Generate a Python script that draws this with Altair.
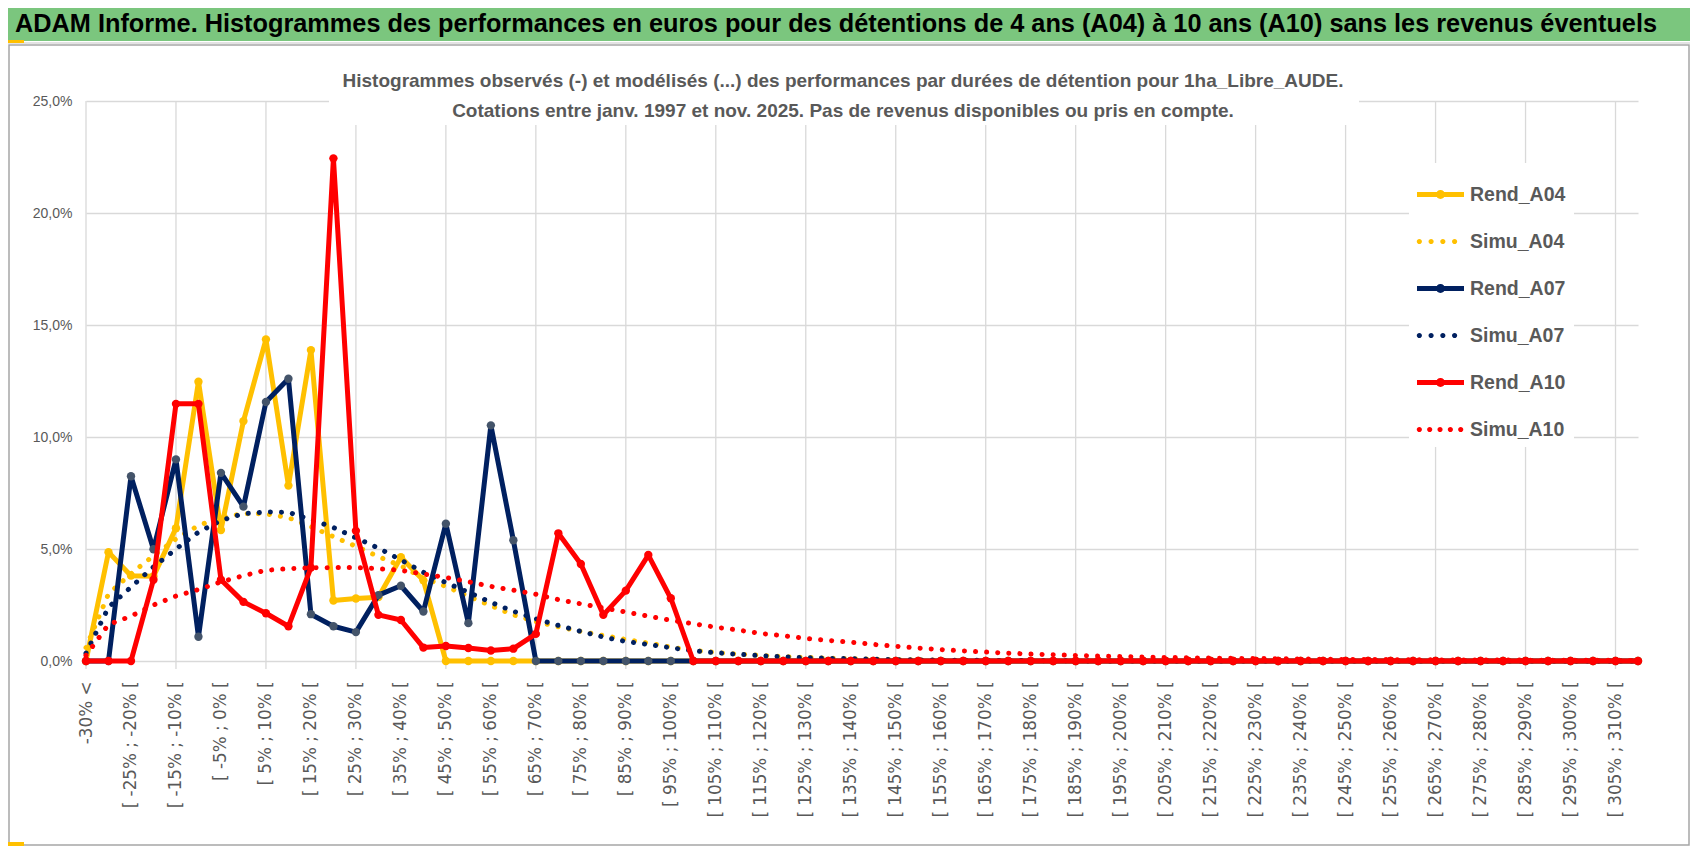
import altair as alt
import pandas as pd

NARROW = "Liberation Sans, Arial, sans-serif"
WIDE = "DejaVu Sans, sans-serif"
GRAY = "#595959"

main_title = "ADAM Informe. Histogrammes des performances en euros pour des détentions de 4 ans (A04) à 10 ans (A10) sans les revenus éventuels"
sub_title = ("Histogrammes observés (-) et modélisés (...) des performances par durées de détention pour 1ha_Libre_AUDE.\n"
             "Cotations entre janv. 1997 et nov. 2025. Pas de revenus disponibles ou pris en compte.")

categories = [
    "-30% <",
    "[ -30% ; -25% [", "[ -25% ; -20% [", "[ -20% ; -15% [", "[ -15% ; -10% [", "[ -10% ; -5% [",
    "[ -5% ; 0% [", "[ 0% ; 5% [", "[ 5% ; 10% [", "[ 10% ; 15% [", "[ 15% ; 20% [",
    "[ 20% ; 25% [", "[ 25% ; 30% [", "[ 30% ; 35% [", "[ 35% ; 40% [", "[ 40% ; 45% [",
    "[ 45% ; 50% [", "[ 50% ; 55% [", "[ 55% ; 60% [", "[ 60% ; 65% [", "[ 65% ; 70% [",
    "[ 70% ; 75% [", "[ 75% ; 80% [", "[ 80% ; 85% [", "[ 85% ; 90% [", "[ 90% ; 95% [",
    "[ 95% ; 100% [", "[ 100% ; 105% [", "[ 105% ; 110% [", "[ 110% ; 115% [", "[ 115% ; 120% [",
    "[ 120% ; 125% [", "[ 125% ; 130% [", "[ 130% ; 135% [", "[ 135% ; 140% [", "[ 140% ; 145% [",
    "[ 145% ; 150% [", "[ 150% ; 155% [", "[ 155% ; 160% [", "[ 160% ; 165% [", "[ 165% ; 170% [",
    "[ 170% ; 175% [", "[ 175% ; 180% [", "[ 180% ; 185% [", "[ 185% ; 190% [", "[ 190% ; 195% [",
    "[ 195% ; 200% [", "[ 200% ; 205% [", "[ 205% ; 210% [", "[ 210% ; 215% [", "[ 215% ; 220% [",
    "[ 220% ; 225% [", "[ 225% ; 230% [", "[ 230% ; 235% [", "[ 235% ; 240% [", "[ 240% ; 245% [",
    "[ 245% ; 250% [", "[ 250% ; 255% [", "[ 255% ; 260% [", "[ 260% ; 265% [", "[ 265% ; 270% [",
    "[ 270% ; 275% [", "[ 275% ; 280% [", "[ 280% ; 285% [", "[ 285% ; 290% [", "[ 290% ; 295% [",
    "[ 295% ; 300% [", "[ 300% ; 305% [", "[ 305% ; 310% [", "[ 310% ; 315% [",
]

# values in percent
rend_a04 = [0, 4.86, 3.81, 3.78, 5.93, 12.47, 5.85, 10.71, 14.36, 7.83,
            13.88, 2.70, 2.79, 2.85, 4.63, 3.60, 0, 0, 0, 0,
            0, 0, 0, 0, 0, 0, 0, 0, 0, 0,
            0, 0, 0, 0, 0, 0, 0, 0, 0, 0,
            0, 0, 0, 0, 0, 0, 0, 0, 0, 0,
            0, 0, 0, 0, 0, 0, 0, 0, 0, 0,
            0, 0, 0, 0, 0, 0, 0, 0, 0, 0]
simu_a04 = [0.6, 3.0, 3.9, 4.7, 5.45, 6.05, 6.4, 6.58, 6.57, 6.4,
            6.0, 5.55, 5.12, 4.66, 4.25, 3.7, 3.33, 2.89, 2.47, 2.06,
            1.76, 1.53, 1.32, 1.14, 0.96, 0.8, 0.62, 0.48, 0.38, 0.31,
            0.25, 0.2, 0.16, 0.13, 0.1, 0.08, 0.06, 0.05, 0.04, 0.03,
            0.02, 0.02, 0.01, 0.01, 0.01, 0, 0, 0, 0, 0,
            0, 0, 0, 0, 0, 0, 0, 0, 0, 0,
            0, 0, 0, 0, 0, 0, 0, 0, 0, 0]
rend_a07 = [0, 0, 8.25, 4.99, 9.00, 1.08, 8.40, 6.89, 11.56, 12.60,
            2.09, 1.55, 1.29, 2.94, 3.36, 2.21, 6.13, 1.69, 10.52, 5.39,
            0, 0, 0, 0, 0, 0, 0, 0, 0, 0,
            0, 0, 0, 0, 0, 0, 0, 0, 0, 0,
            0, 0, 0, 0, 0, 0, 0, 0, 0, 0,
            0, 0, 0, 0, 0, 0, 0, 0, 0, 0,
            0, 0, 0, 0, 0, 0, 0, 0, 0, 0]
simu_a07 = [0.35, 2.4, 3.3, 4.2, 5.0, 5.75, 6.27, 6.58, 6.65, 6.64,
            6.31, 5.96, 5.5, 5.04, 4.51, 3.96, 3.5, 3.07, 2.62, 2.22,
            1.88, 1.59, 1.32, 1.07, 0.87, 0.74, 0.59, 0.46, 0.37, 0.3,
            0.24, 0.19, 0.15, 0.12, 0.1, 0.08, 0.06, 0.05, 0.04, 0.03,
            0.03, 0.02, 0.02, 0.01, 0.01, 0, 0, 0, 0, 0,
            0, 0, 0, 0, 0, 0, 0, 0, 0, 0,
            0, 0, 0, 0, 0, 0, 0, 0, 0, 0]
rend_a10 = [0, 0, 0, 3.63, 11.48, 11.48, 3.63, 2.64, 2.13, 1.55,
            4.17, 22.44, 5.81, 2.06, 1.83, 0.60, 0.67, 0.58, 0.47, 0.55,
            1.21, 5.70, 4.33, 2.06, 3.14, 4.73, 2.80, 0, 0, 0,
            0, 0, 0, 0, 0, 0, 0, 0, 0, 0,
            0, 0, 0, 0, 0, 0, 0, 0, 0, 0,
            0, 0, 0, 0, 0, 0, 0, 0, 0, 0,
            0, 0, 0, 0, 0, 0, 0, 0, 0, 0]
simu_a10 = [0.25, 1.63, 2.0, 2.5, 2.9, 3.19, 3.53, 3.81, 4.05, 4.12,
            4.16, 4.17, 4.17, 4.12, 4.05, 3.88, 3.73, 3.54, 3.33, 3.16,
            2.98, 2.74, 2.55, 2.37, 2.19, 2.0, 1.82, 1.66, 1.51, 1.38,
            1.23, 1.13, 1.01, 0.92, 0.84, 0.74, 0.66, 0.58, 0.51, 0.45,
            0.40, 0.35, 0.31, 0.28, 0.25, 0.22, 0.20, 0.18, 0.16, 0.14,
            0.13, 0.12, 0.11, 0.10, 0.09, 0.08, 0.07, 0.07, 0.06, 0.06,
            0.05, 0.05, 0.04, 0.04, 0.04, 0.03, 0.03, 0.03, 0.03, 0.02]

series_names = ["Rend_A04", "Simu_A04", "Rend_A07", "Simu_A07", "Rend_A10", "Simu_A10"]
series_colors = ["#FFC000", "#FFC000", "#002060", "#002060", "#FF0000", "#FF0000"]
marker_colors = {"Rend_A04": "#FFC000", "Rend_A07": "#44546A", "Rend_A10": "#FF0000"}
series_values = [rend_a04, simu_a04, rend_a07, simu_a07, rend_a10, simu_a10]

rows = []
for name, vals in zip(series_names, series_values):
    assert len(vals) == len(categories)
    for i, (c, v) in enumerate(zip(categories, vals)):
        rows.append({"series": name, "cat": c, "idx": i, "value": v})
df = pd.DataFrame(rows)


# legend symbol shapes (unit box [-1,1])
def dots(xs, r=0.11):
    return " ".join(f"M{x - r:.3f},0 A{r},{r} 0 1,1 {x + r:.3f},0 A{r},{r} 0 1,1 {x - r:.3f},0 Z" for x in xs)


rend_shape = "M-1,-0.105 L1,-0.105 L1,0.105 L-1,0.105 Z M-0.19,0 A0.19,0.19 0 1,1 0.19,0 A0.19,0.19 0 1,1 -0.19,0 Z"
simu4 = dots([-0.9, -0.4, 0.1, 0.6])
simu5 = dots([-0.9, -0.46, -0.02, 0.42, 0.86])
shape_range = [rend_shape, simu4, rend_shape, simu4, rend_shape, simu5]

W, H = 1552, 560

x_enc = alt.X(
    "cat:O",
    scale=alt.Scale(type="point", domain=categories, padding=0),
    axis=alt.Axis(
        values=categories[0::2], labelAngle=-90, labelFont=WIDE, labelFontSize=16.8,
        labelColor=GRAY, ticks=False, domain=False, grid=False, labelPadding=20,
        title=None, labelOverlap=False, labelLimit=300,
    ),
)
y_enc = alt.Y(
    "value:Q",
    scale=alt.Scale(domain=[0, 25], nice=False),
    axis=alt.Axis(
        values=[0, 5, 10, 15, 20, 25],
        labelExpr="replace(format(datum.value, '.1f'), '.', ',') + '%'",
        labelFont=NARROW, labelFontSize=14, labelColor=GRAY, ticks=False, domain=False,
        gridColor="#D9D9D9", gridWidth=1.3, labelPadding=14, title=None,
    ),
)

one = pd.DataFrame({"k": [0]})

band = alt.Chart(one).mark_rect(color="#7BC67E").encode(
    x=alt.value(-78), x2=alt.value(1604), y=alt.value(-93), y2=alt.value(-60))
band_line = alt.Chart(one).mark_rect(color="#E3E3E3").encode(
    x=alt.value(-78), x2=alt.value(1604), y=alt.value(-59), y2=alt.value(-57))
band_mark = alt.Chart(one).mark_rect(color="#FFC000").encode(
    x=alt.value(-78), x2=alt.value(-62), y=alt.value(-61), y2=alt.value(-58))
frame = alt.Chart(one).mark_rect(fill="white", fillOpacity=0, stroke="#A6A6A6", strokeWidth=1.5).encode(
    x=alt.value(-77), x2=alt.value(1603), y=alt.value(-56), y2=alt.value(744))
bottom_mark = alt.Chart(one).mark_rect(color="#FFC000").encode(
    x=alt.value(-78), x2=alt.value(-62), y=alt.value(741), y2=alt.value(745))

title_text = alt.Chart(one).mark_text(
    align="left", baseline="middle", font=NARROW, fontSize=25.3, fontWeight="bold", color="#000000"
).encode(x=alt.value(-71), y=alt.value(-77), text=alt.value(main_title))

sub_box = alt.Chart(one).mark_rect(color="white").encode(
    x=alt.value(243), x2=alt.value(1273), y=alt.value(-40), y2=alt.value(24))
sub_text = alt.Chart(one).mark_text(
    align="center", baseline="middle", font=NARROW, fontSize=19, fontWeight="bold", color=GRAY,
    lineBreak="\n", lineHeight=30,
).encode(x=alt.value(757), y=alt.value(-20), text=alt.value(sub_title))

grid_df = pd.DataFrame({"cat": categories[0::4]})
vgrid = alt.Chart(grid_df).mark_rule(color="#D9D9D9", strokeWidth=1.3).encode(
    x=x_enc, y=alt.value(0), y2=alt.value(H + 8))

layers = [band, band_line, band_mark, frame, bottom_mark, vgrid, sub_box, sub_text, title_text]
for name, col in zip(series_names, series_colors):
    sub = df[df.series == name]
    if name.startswith("Rend"):
        layers.append(alt.Chart(sub).mark_line(
            color=col, strokeWidth=5, strokeCap="round", strokeJoin="round"
        ).encode(x=x_enc, y=y_enc, order=alt.Order("idx:Q")))
        layers.append(alt.Chart(sub).mark_circle(
            color=marker_colors[name], size=70, opacity=1
        ).encode(x=x_enc, y=y_enc))
    else:
        layers.append(alt.Chart(sub).mark_line(
            color=col, strokeWidth=5, strokeCap="round", strokeJoin="round", strokeDash=[0.1, 11]
        ).encode(x=x_enc, y=y_enc, order=alt.Order("idx:Q")))

leg = alt.Legend(
    orient="none", legendX=1323, legendY=62, fillColor="white", padding=8, title=None,
    labelFont=NARROW, labelFontSize=19.5, labelFontWeight="bold", labelColor=GRAY,
    symbolSize=2209, symbolStrokeWidth=0, symbolOpacity=1, rowPadding=14, labelOffset=6,
    labelLimit=300,
)
legend_layer = alt.Chart(df).transform_filter("false").mark_point(filled=True, opacity=1).encode(
    color=alt.Color("series:N", scale=alt.Scale(domain=series_names, range=series_colors), legend=leg),
    shape=alt.Shape("series:N", scale=alt.Scale(domain=series_names, range=shape_range), legend=leg),
)
layers.append(legend_layer)

chart = alt.layer(*layers).properties(
    width=W, height=H,
    padding={"left": 78, "top": 93, "right": 52, "bottom": 185},
    autosize=alt.AutoSizeParams(type="none"),
    background="white",
).configure_view(stroke=None)

chart.save("out.html", embed_options={"renderer": "svg", "actions": False})
